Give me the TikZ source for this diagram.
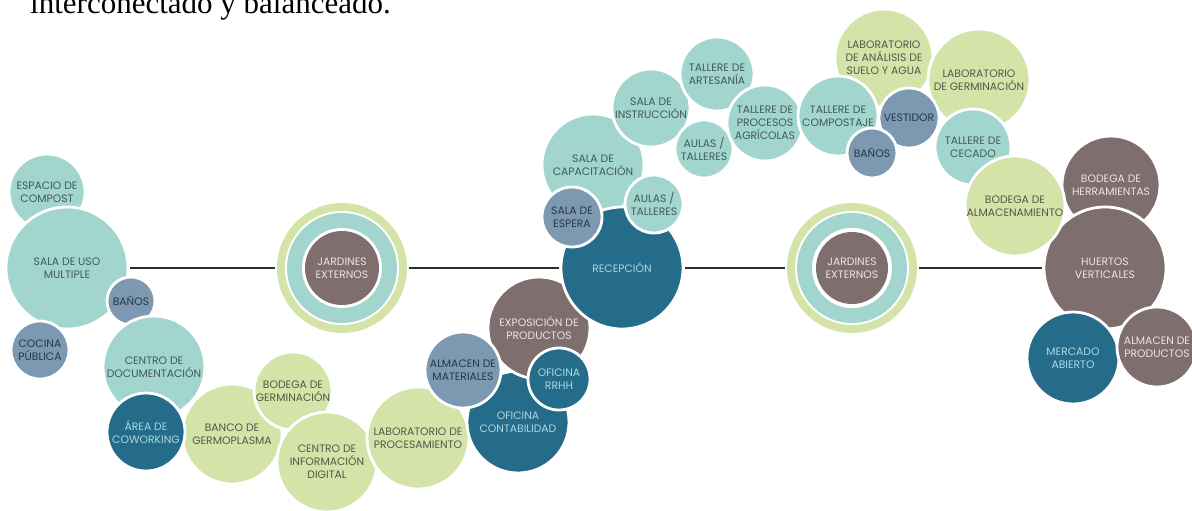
\documentclass[tikz,border=0pt]{standalone}
\usepackage{fontspec}
\newfontfamily\lbl{Poppins}
\newfontfamily\ttl{Liberation Serif}
\definecolor{cTeal}{RGB}{162,213,205}
\definecolor{cSlate}{RGB}{124,153,177}
\definecolor{cDark}{RGB}{36,108,137}
\definecolor{cGreen}{RGB}{212,227,168}
\definecolor{cTaupe}{RGB}{126,110,110}
\definecolor{tTeal}{RGB}{66,90,90}
\definecolor{tSlate}{RGB}{40,55,70}
\definecolor{tDark}{RGB}{172,216,226}
\definecolor{tGreen}{RGB}{84,88,74}
\definecolor{tTaupe}{RGB}{236,229,229}
\definecolor{cLine}{RGB}{45,45,45}
\tikzset{
  bub/.style={circle, draw=white, line width=2.8pt, inner sep=0pt, align=center,
    font=\lbl\fontsize{10.8}{13}\selectfont},
  tl/.style={bub, fill=cTeal, text=tTeal},
  sl/.style={bub, fill=cSlate, text=tSlate},
  dk/.style={bub, fill=cDark, text=tDark},
  gr/.style={bub, fill=cGreen, text=tGreen},
  tp/.style={bub, fill=cTaupe, text=tTaupe},
  link/.style={draw=cLine, line width=1.3pt},
}
\begin{document}
\begin{tikzpicture}[x=1pt,y=1pt]
\clip (0,0) rectangle (1192,-511);
\fill[white] (0,0) rectangle (1192,-511);
\node[anchor=base west, inner sep=0pt, font=\ttl\fontsize{31}{31}\selectfont] (title) at (30,-14) {interconectado y balanceado.};
% left cluster
\node[tl, minimum size=76pt] (compost) at (47,-192) {ESPACIO DE\\COMPOST};
\node[tl, minimum size=122pt] (sala) at (67,-268) {SALA DE USO\\MULTIPLE};
\node[sl, minimum size=48pt] (banosa) at (131,-301) {BAÑOS};
\node[sl, minimum size=58pt] (cocina) at (40,-350) {COCINA\\PÚBLICA};
\node[tl, minimum size=102pt] (centrodoc) at (154,-367) {CENTRO DE\\DOCUMENTACIÓN};
\node[gr, minimum size=100pt] (banco) at (232,-434) {BANCO DE\\GERMOPLASMA};
\node[gr, minimum size=78pt] (bodegager) at (293,-391) {BODEGA DE\\GERMINACIÓN};
\node[dk, minimum size=78pt] (cowork) at (146,-432) {ÁREA DE\\COWORKING};
\node[gr, minimum size=100pt] (centroinfo) at (327,-462) {CENTRO DE\\INFORMACIÓN\\DIGITAL};
\node[gr, minimum size=102pt] (labproc) at (418,-438) {LABORATORIO DE\\PROCESAMIENTO};
\node[dk, minimum size=102pt] (contab) at (518,-422) {OFICINA\\CONTABILIDAD};
\node[tp, minimum size=102pt] (expo) at (539,-328) {EXPOSICIÓN DE\\PRODUCTOS};
\node[sl, minimum size=76pt] (almacen) at (463,-370) {ALMACEN DE\\MATERIALES};
\node[dk, minimum size=62pt] (rrhh) at (559,-379) {OFICINA\\RRHH};
% center upper cluster
\node[tl, minimum size=102pt] (capac) at (593,-165) {SALA DE\\CAPACITACIÓN};
\node[dk, minimum size=122pt] (recep) at (622,-268) {RECEPCIÓN};
\node[sl, minimum size=60pt] (espera) at (572,-217) {SALA DE\\ESPERA};
\node[tl, minimum size=58pt] (aulasa) at (654,-204) {AULAS /\\TALLERES};
\node[tl, minimum size=78pt] (instr) at (651,-108) {SALA DE\\INSTRUCCIÓN};
\node[tl, minimum size=74pt] (artes) at (717,-74) {TALLERE DE\\ARTESANÍA};
\node[tl, minimum size=58pt] (aulasb) at (704,-149) {AULAS /\\TALLERES};
\node[tl, minimum size=76pt] (procesos) at (765,-123) {TALLERE DE\\PROCESOS\\AGRÍCOLAS};
\node[gr, minimum size=98pt] (analisis) at (884,-58) {LABORATORIO\\DE ANÁLISIS DE\\SUELO Y AGUA};
\node[gr, minimum size=102pt] (germin) at (979,-80) {LABORATORIO\\DE GERMINACIÓN};
\node[tl, minimum size=80pt] (compostaje) at (838,-116) {TALLERE DE\\COMPOSTAJE};
\node[sl, minimum size=60pt] (vestidor) at (909,-118) {VESTIDOR};
\node[sl, minimum size=50pt] (banosb) at (872,-153) {BAÑOS};
\node[tl, minimum size=76pt] (cecado) at (973,-147) {TALLERE DE\\CECADO};
% right cluster
\node[tp, minimum size=98pt] (herram) at (1111,-185) {BODEGA DE\\HERRAMIENTAS};
\node[tp, minimum size=122pt] (huertos) at (1105,-268) {HUERTOS\\VERTICALES};
\node[gr, minimum size=100pt] (almac) at (1015,-206) {BODEGA DE\\ALMACENAMIENTO};
\node[dk, minimum size=92pt] (mercado) at (1073,-358) {MERCADO\\ABIERTO};
\node[tp, minimum size=80pt] (almprod) at (1157,-347) {ALMACEN DE\\PRODUCTOS};
% gardens
\node[circle, fill=cGreen, inner sep=0pt, minimum size=130pt] (jl) at (342,-268) {};
\fill[white] (jl.center) circle (57pt);
\fill[cTeal] (jl.center) circle (55pt);
\fill[white] (jl.center) circle (40pt);
\node[circle, fill=cTaupe, text=tTaupe, inner sep=0pt, minimum size=74pt, align=center,
  font=\lbl\fontsize{10.8}{13}\selectfont] (jlc) at (jl.center) {JARDINES\\EXTERNOS};
\node[circle, fill=cGreen, inner sep=0pt, minimum size=130pt] (jr) at (852,-268) {};
\fill[white] (jr.center) circle (57pt);
\fill[cTeal] (jr.center) circle (55pt);
\fill[white] (jr.center) circle (40pt);
\node[circle, fill=cTaupe, text=tTaupe, inner sep=0pt, minimum size=72pt, align=center,
  font=\lbl\fontsize{10.8}{13}\selectfont] (jrc) at (jr.center) {JARDINES\\EXTERNOS};
% connectors
\draw[link] ([xshift=1pt]sala.east) -- ([xshift=-2pt]jl.west);
\draw[link] ([xshift=2pt]jl.east) -- ([xshift=-1pt]recep.west);
\draw[link] ([xshift=1pt]recep.east) -- ([xshift=-2pt]jr.west);
\draw[link] ([xshift=2pt]jr.east) -- ([xshift=-1pt]huertos.west);
\end{tikzpicture}
\end{document}
